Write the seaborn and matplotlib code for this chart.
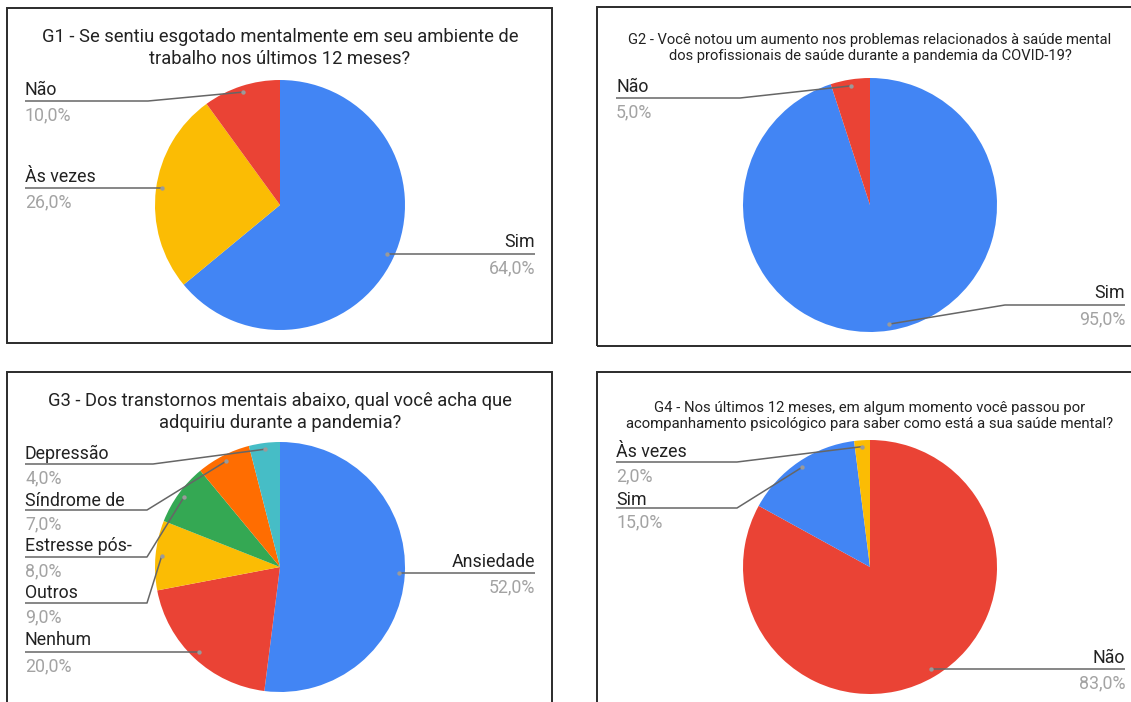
import math
import matplotlib
matplotlib.use("Agg")
import matplotlib.pyplot as plt
from matplotlib.patches import Rectangle
import seaborn as sns

# ---------------- data ----------------
g1_title = "G1 - Se sentiu esgotado mentalmente em seu ambiente de\ntrabalho nos últimos 12 meses?"
g1_labels = ["Sim", "Às vezes", "Não"]
g1_values = [64.0, 26.0, 10.0]

g2_title = ("G2 - Você notou um aumento nos problemas relacionados à saúde mental\n"
            "dos profissionais de saúde durante a pandemia da COVID-19?")
g2_labels = ["Sim", "Não"]
g2_values = [95.0, 5.0]

g3_title = "G3 - Dos transtornos mentais abaixo, qual você acha que\nadquiriu durante a pandemia?"
g3_labels = ["Ansiedade", "Nenhum", "Outros", "Estresse pós-", "Síndrome de", "Depressão"]
g3_values = [52.0, 20.0, 9.0, 8.0, 7.0, 4.0]

g4_title = ("G4 - Nos últimos 12 meses, em algum momento você passou por\n"
            "acompanhamento psicológico para saber como está a sua saúde mental?")
g4_labels = ["Não", "Sim", "Às vezes"]
g4_values = [83.0, 15.0, 2.0]

BLUE, RED, YELLOW, GREEN, ORANGE, TEAL = "#4285F4", "#EA4335", "#FBBC04", "#34A853", "#FF6D01", "#46BDC6"
g1_colors = [BLUE, YELLOW, RED]
g2_colors = [BLUE, RED]
g3_colors = [BLUE, RED, YELLOW, GREEN, ORANGE, TEAL]
g4_colors = [RED, BLUE, YELLOW]

# ---------------- style ----------------
sns.set_theme(style="white")
plt.rcParams["font.family"] = ["Roboto", "DejaVu Sans"]

W, H = 1131, 702
fig = plt.figure(figsize=(W / 100, H / 100), dpi=100)
ax = fig.add_axes([0, 0, 1, 1])


def Y(y):
    return H - y


# layout per panel: border box, title centre/size, pie centre/radius,
# label placement (side, text y, line y, elbow x)
panels = [
    dict(box=(7, 8, 552, 343), title=g1_title, tx=280, ty=48, tsize=13.2,
         c=(280, 205), r=125, labels=g1_labels, values=g1_values, colors=g1_colors,
         place=[("R", 242, 254, 535), ("L", 177, 188, None), ("L", 90, 101, 148)]),
    dict(box=(597, 7, 1140, 346), title=g2_title, tx=870, ty=48, tsize=10.65,
         c=(870, 205), r=127, labels=g2_labels, values=g2_values, colors=g2_colors,
         place=[("R", 293, 305, 1005), ("L", 87, 98, 740)]),
    dict(box=(7, 372, 552, 712), title=g3_title, tx=280, ty=412, tsize=13.2,
         c=(280, 567), r=125, labels=g3_labels, values=g3_values, colors=g3_colors,
         place=[("R", 562, 573, 535), ("L", 640, 652, None), ("L", 593, 603, 147),
                ("L", 546, 557, 147), ("L", 501, 510, 147), ("L", 454, 464, 153)]),
    dict(box=(597, 372, 1140, 712), title=g4_title, tx=870, ty=416, tsize=10.7,
         c=(870, 567), r=127, labels=g4_labels, values=g4_values, colors=g4_colors,
         place=[("R", 658, 669, 1125), ("L", 500, 508, 737), ("L", 452, 462, 737)]),
]

RIGHT_X = {280: 535, 870: 1125}
LEFT_X = {280: 25, 870: 616}
LABEL_SIZE = 12.8
LINE_C = "#666666"
PCT_C = "#a3a3a3"
TXT_C = "#222222"

for p in panels:
    x0, y0, x1, y1 = p["box"]
    ax.add_patch(Rectangle((x0, Y(y1)), x1 - x0, y1 - y0, fill=False,
                           edgecolor="#2b2b2b", linewidth=1.4, zorder=10))
    ax.text(p["tx"], Y(p["ty"]), p["title"], ha="center", va="center",
            fontsize=p["tsize"], color=TXT_C, linespacing=1.25)
    cx, cy = p["c"]
    wedges, _ = ax.pie(p["values"], colors=p["colors"], startangle=90, counterclock=False,
                       center=(cx, Y(cy)), radius=p["r"],
                       wedgeprops=dict(linewidth=0, edgecolor="none"))
    for w, lab, val, (side, ty, ly, ex) in zip(wedges, p["labels"], p["values"], p["place"]):
        mid = math.radians((w.theta1 + w.theta2) / 2)
        dx = cx + 0.95 * p["r"] * math.cos(mid)
        dy = Y(cy) + 0.95 * p["r"] * math.sin(mid)
        pct = f"{val:.1f}".replace(".", ",") + "%"
        if side == "L":
            lx = LEFT_X[cx]
            if ex:
                xs, ys = [lx, ex, dx], [Y(ly), Y(ly), dy]
            else:
                xs, ys = [lx, dx], [Y(ly), Y(ly)]
                dy = Y(ly)
            ax.plot(xs, ys, color=LINE_C, lw=1.1, zorder=5, solid_capstyle="butt")
            ax.text(lx, Y(ty), lab, ha="left", va="center", fontsize=LABEL_SIZE, color=TXT_C)
            ax.text(lx, Y(ly + 14), pct, ha="left", va="center", fontsize=LABEL_SIZE, color=PCT_C)
        else:
            rx = RIGHT_X[cx]
            if ex != rx:
                xs, ys = [dx, ex, rx], [dy, Y(ly), Y(ly)]
            else:
                xs, ys = [dx, rx], [Y(ly), Y(ly)]
                dy = Y(ly)
            ax.plot(xs, ys, color=LINE_C, lw=1.1, zorder=5, solid_capstyle="butt")
            ax.text(rx, Y(ty), lab, ha="right", va="center", fontsize=LABEL_SIZE, color=TXT_C)
            ax.text(rx, Y(ly + 14), pct, ha="right", va="center", fontsize=LABEL_SIZE, color=PCT_C)
        ax.scatter([dx], [dy], s=10, color="#9a9a9a", zorder=6, linewidths=0)

ax.set_xlim(0, W)
ax.set_ylim(0, H)
ax.set_aspect("auto")
ax.axis("off")
fig.savefig("out.png", dpi=100, facecolor="white")
